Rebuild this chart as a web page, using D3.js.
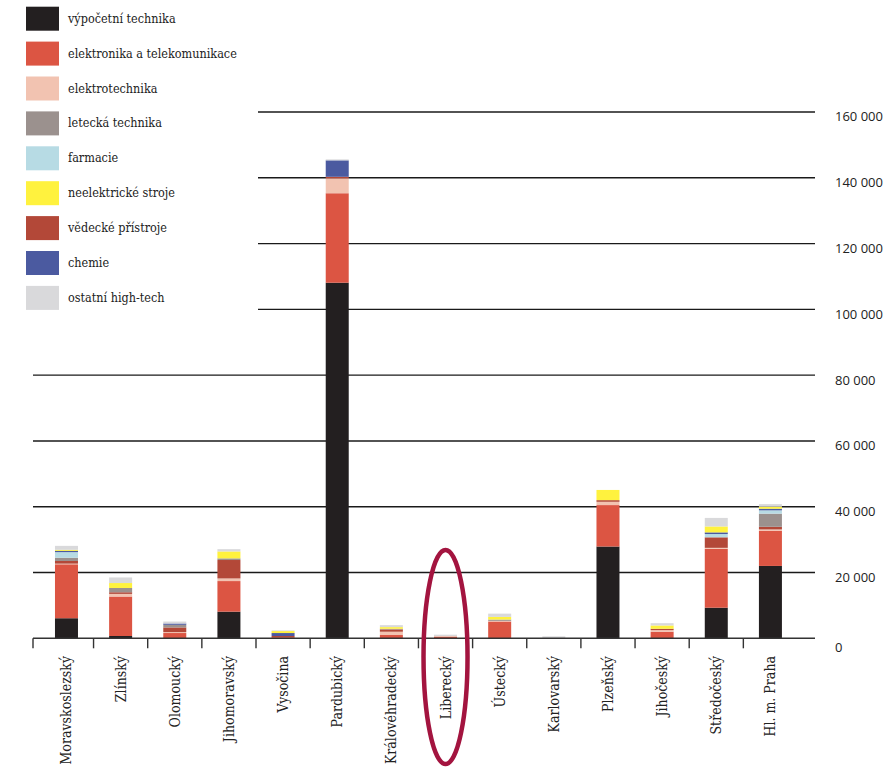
<!DOCTYPE html>
<html><head><meta charset="utf-8">
<script src="https://cdn.jsdelivr.net/npm/d3@7"></script>
<style>
html,body{margin:0;padding:0;background:#fff;}
svg{display:block;}
</style></head>
<body>
<svg id="chart" width="892" height="768"></svg>
<script>
const categories = ["Moravskoslezský","Zlínský","Olomoucký","Jihomoravský","Vysočina","Pardubický","Královéhradecký","Liberecký","Ústecký","Karlovarský","Plzeňský","Jihočeský","Středočeský","Hl. m. Praha"];
const seriesNames = ["výpočetní technika","elektronika a telekomunikace","elektrotechnika","letecká technika","farmacie","neelektrické stroje","vědecké přístroje","chemie","ostatní high-tech"];
const seriesColors = ["#231f20","#dc5543","#f2c3b1","#9b918e","#b7dbe4","#fff23e","#b34838","#4b5aa0","#d9d9db"];
// values per series (same order as categories)
const vypocetni   = [6100, 700, 0, 8100, 0, 108100, 0, 0, 0, 0, 27900, 0, 9300, 22000];
const elektronika = [16400, 12000, 1600, 9300, 300, 27200, 1000, 500, 5100, 0, 12600, 2000, 17900, 10700];
const elektrotech = [200, 800, 300, 800, 0, 4500, 1000, 200, 200, 100, 1000, 500, 300, 400];
const letecka     = [1000, 1300, 800, 500, 0, 0, 200, 0, 400, 0, 0, 0, 0, 4000];
const farmacie    = [1700, 0, 0, 0, 0, 0, 0, 0, 0, 0, 0, 0, 1000, 1000];
const neelektr    = [300, 1500, 0, 2100, 600, 0, 500, 0, 800, 0, 3100, 1000, 1800, 600];
const vedecke     = [800, 500, 1400, 5600, 400, 500, 700, 0, 0, 0, 500, 400, 3200, 800];
const chemie      = [400, 0, 400, 0, 900, 5000, 0, 0, 0, 0, 0, 0, 500, 500];
const ostatni     = [1200, 1700, 600, 700, 200, 300, 600, 400, 1000, 500, 0, 700, 2600, 800];
const yTicks = [0, 20000, 40000, 60000, 80000, 100000, 120000, 140000, 160000];

const seriesValues = [vypocetni, elektronika, elektrotech, vedecke, letecka, farmacie, chemie, neelektr, ostatni];
const stackOrder = ["výpočetní technika","elektronika a telekomunikace","elektrotechnika","vědecké přístroje","letecká technika","farmacie","chemie","neelektrické stroje","ostatní high-tech"];

const table = categories.map((c,i)=>{
  const row = {cat:c};
  stackOrder.forEach((s,k)=>{ row[s] = seriesValues[k][i]; });
  return row;
});

const svg = d3.select("#chart");
const x0 = 39.4, step = 54.15;
const x = d3.scaleBand().domain(categories).range([x0, x0 + step*categories.length]).padding(0);
const y = d3.scaleLinear().domain([0,160000]).range([638.3, 112]);
const color = d3.scaleOrdinal().domain(seriesNames).range(seriesColors);
const lineLeft = 33, lineRight = 815, legendRight = 258;
const barW = 23;

// gridlines
svg.append("g").selectAll("line").data(yTicks.filter(d=>d>0)).join("line")
  .attr("x1", d => d >= 100000 ? legendRight : lineLeft)
  .attr("x2", lineRight)
  .attr("y1", d => y(d)).attr("y2", d => y(d))
  .attr("stroke", "#1a1a1a").attr("stroke-width", 1.4);

// right axis labels
const fmt = d => d3.format(",")(d).replace(/,/g, " ");
svg.append("g").selectAll("text").data(yTicks).join("text")
  .attr("x", 835).attr("y", d => y(d) + (d===0 ? 10 : 6))
  .attr("dominant-baseline", "middle")
  .attr("font-family", "'Open Sans', sans-serif").attr("font-size", 13)
  .attr("fill", "#222").text(fmt);

// stacked bars
const stack = d3.stack().keys(stackOrder)(table);
svg.append("g").selectAll("g").data(stack).join("g")
  .attr("fill", d => color(d.key))
  .selectAll("rect").data(d => d).join("rect")
  .attr("x", d => x(d.data.cat) + x.bandwidth()/2 - barW/2)
  .attr("width", barW)
  .attr("y", d => y(d[1]))
  .attr("height", d => Math.max(0, y(d[0]) - y(d[1])));

// baseline and ticks
svg.append("line").attr("x1", lineLeft).attr("x2", lineRight)
  .attr("y1", y(0)).attr("y2", y(0)).attr("stroke", "#333").attr("stroke-width", 1.6);
const tickXs = [lineLeft].concat(categories.slice(1).map(c => x(c)));
svg.append("g").selectAll("line").data(tickXs).join("line")
  .attr("x1", d=>d).attr("x2", d=>d).attr("y1", y(0)).attr("y2", y(0)+10)
  .attr("stroke", "#333").attr("stroke-width", 1.4);

// category labels
svg.append("g").selectAll("text").data(categories).join("text")
  .attr("transform", d => `translate(${x(d)+x.bandwidth()/2 + 5},656) rotate(-90)`)
  .attr("text-anchor", "end")
  .attr("font-family", "'DejaVu Serif Condensed', 'DejaVu Serif', serif")
  .attr("font-stretch", "condensed")
  .attr("font-size", 14).attr("fill", "#222").text(d=>d);

// legend
const lg = svg.append("g").selectAll("g").data(seriesNames).join("g")
  .attr("transform", (d,i) => `translate(26,${6.7 + i*34.9})`);
lg.append("rect").attr("width", 33).attr("height", 24).attr("fill", d => color(d));
lg.append("text").attr("x", 42).attr("y", 12.5).attr("dominant-baseline", "middle")
  .attr("font-family", "'DejaVu Serif Condensed', 'DejaVu Serif', serif")
  .attr("font-stretch", "condensed")
  .attr("font-size", 12.5).attr("fill", "#222").text(d => d);

// highlight ellipse around Liberecký
svg.append("ellipse")
  .attr("cx", x("Liberecký") + x.bandwidth()/2).attr("cy", 657)
  .attr("rx", 22).attr("ry", 107)
  .attr("fill", "none").attr("stroke", "#a3143f").attr("stroke-width", 4.5);
</script>
</body></html>
